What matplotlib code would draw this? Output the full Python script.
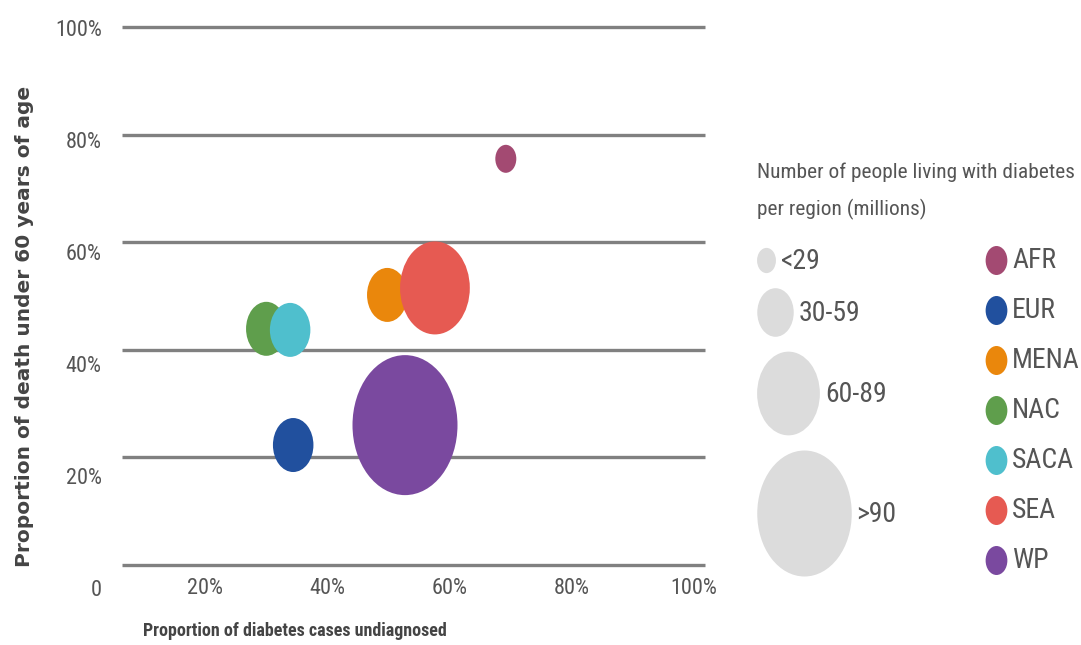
import matplotlib.pyplot as plt
from matplotlib.markers import MarkerStyle
from matplotlib.path import Path
from matplotlib.transforms import Affine2D

# IDF regions: share of cases undiagnosed vs share of deaths under 60
regions = ['AFR', 'EUR', 'MENA', 'NAC', 'SACA', 'SEA', 'WP']
undiagnosed = [69.2, 34.4, 49.8, 30.0, 33.9, 57.6, 52.7]
death_under_60 = [75.5, 22.3, 50.2, 43.9, 43.7, 51.5, 26.0]
size_class = [0, 1, 1, 1, 1, 2, 3]
colors = ['#a34a72', '#21509e', '#ea870c', '#5f9e4c', '#4fbfcd', '#e65a52', '#7a499f']

size_labels = ['<29', '30-59', '60-89', '>90']
tick_values = [0, 20, 40, 60, 80, 100]
tick_labels = ['0', '20%', '40%', '60%', '80%', '100%']

bubble_px = [28, 54, 93, 140]   # bubble height per size class, pixels
narrow = ['Roboto Condensed', 'Noto Sans Condensed', 'DejaVu Sans Condensed',
          'Liberation Sans Narrow', 'DejaVu Sans']
text_grey = '#555555'

W, H = 1081, 645
fig = plt.figure(figsize=(W / 100, H / 100), dpi=100)


def px_box(left, top, right, bottom):
    return [left / W, 1 - bottom / H, (right - left) / W, (bottom - top) / H]


def pt2(h):
    # marker area for a given pixel height
    return (h * 0.72) ** 2


oval = MarkerStyle(Path.unit_circle().transformed(Affine2D().scale(0.75, 1.0)))

# main plot
ax = fig.add_axes(px_box(83, 27, 705, 565))
ax.set_xlim(0, 101.8)
ax.set_ylim(0, 100)
for s in ax.spines.values():
    s.set_visible(False)
ax.hlines(tick_values, 6.4, 101.8, color='#808080', lw=2.4, zorder=1, clip_on=False)
ax.scatter(undiagnosed, death_under_60, s=[pt2(bubble_px[c]) for c in size_class],
           c=colors, marker=oval, linewidths=0, zorder=3, clip_on=False)
ax.set_xticks(tick_values[1:])
ax.set_xticklabels(tick_labels[1:], family=narrow, stretch='condensed', fontsize=16,
                   color=text_grey)
ax.set_yticks([])
ax.tick_params(axis='x', length=0, pad=9)

# y tick labels sit on their own, slightly wider scale
ax_lab = fig.add_axes(px_box(106, 28, 705, 588))
ax_lab.set_ylim(0, 100)
ax_lab.patch.set_visible(False)
for s in ax_lab.spines.values():
    s.set_visible(False)
ax_lab.set_xticks([])
ax_lab.set_yticks(tick_values)
ax_lab.set_yticklabels(tick_labels, family=narrow, stretch='condensed', fontsize=16,
                       color=text_grey)
ax_lab.tick_params(axis='y', length=0, pad=3)

fig.text(25 / W, 1 - 326 / H, 'Proportion of death under 60 years of age', rotation=90,
         ha='center', va='center', fontsize=14.5, fontweight='bold', color='#444444')
fig.text(295 / W, 1 - 631 / H, 'Proportion of diabetes cases undiagnosed',
         ha='center', va='center', family=narrow, stretch='condensed', fontsize=13,
         fontweight='bold', color='#444444')

# legends drawn in pixel space
leg = fig.add_axes([0, 0, 1, 1])
leg.set_xlim(0, W)
leg.set_ylim(H, 0)
leg.axis('off')

leg.text(757, 172, 'Number of people living with diabetes', family=narrow,
         stretch='condensed', fontsize=15.4, color=text_grey, va='center')
leg.text(757, 209, 'per region (millions)', family=narrow, stretch='condensed',
         fontsize=15.4, color=text_grey, va='center')

top = 247
for label, h in zip(size_labels, bubble_px):
    h = h * 0.9
    w = h * 0.75
    yc = top + h / 2
    leg.scatter([757 + w / 2], [yc], s=pt2(h), marker=oval, color='#dcdcdc', linewidths=0)
    leg.text(757 + w + 5, yc + 2, label, family=narrow, stretch='condensed', fontsize=20,
             color=text_grey, va='center')
    top += h + 15

for i, (name, col) in enumerate(zip(regions, colors)):
    yc = 260 + 50 * i
    leg.scatter([996], [yc], s=pt2(29), marker=oval, color=col, linewidths=0)
    leg.text(1012, yc + 1, name, family=narrow, stretch='condensed', fontsize=20,
             color=text_grey, va='center')

fig.savefig('out.png', dpi=100)
